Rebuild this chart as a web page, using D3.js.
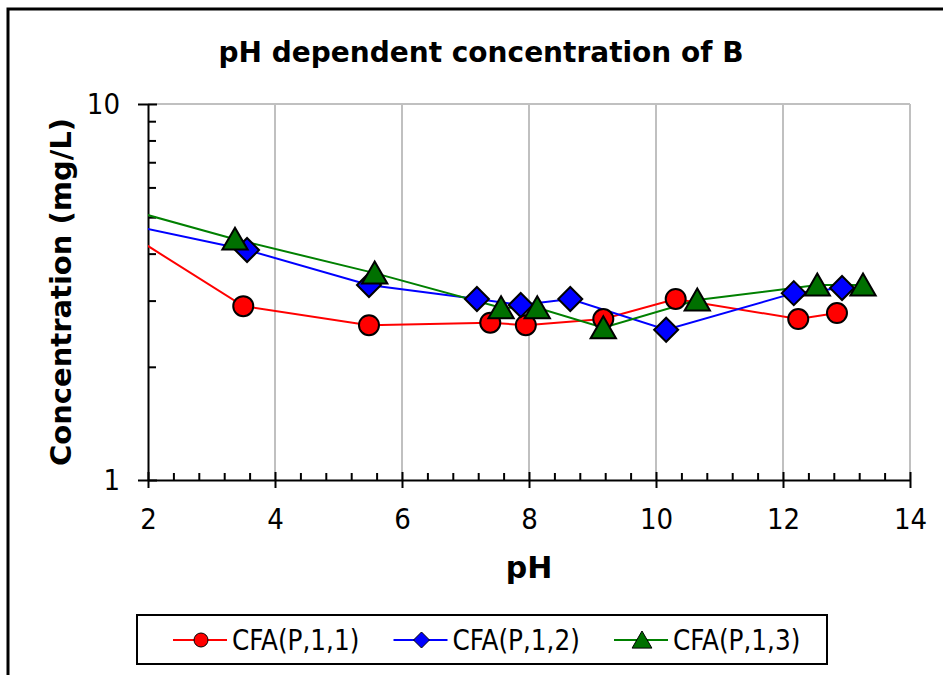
<!DOCTYPE html>
<html>
<head>
<meta charset="utf-8">
<script src="https://cdn.jsdelivr.net/npm/d3@7"></script>
<style>
  body { margin: 0; background: #fff; }
  text { font-family: "DejaVu Sans Condensed", "DejaVu Sans", sans-serif; fill: #000; }
</style>
</head>
<body>
<div id="chart"></div>
<script>
// pH values and concentrations (mg/L)
// the first point of each run sits just below pH 2 and is clipped by the plot area
const ph1 = [1.7, 3.50, 5.48, 7.39, 7.95, 9.17, 10.31, 12.24, 12.85],
      conc1 = [4.51, 2.90, 2.58, 2.62, 2.58, 2.68, 3.03, 2.68, 2.78];
const ph2 = [1.7, 3.56, 5.48, 7.18, 7.87, 8.65, 10.16, 12.17, 12.93],
      conc2 = [4.77, 4.09, 3.30, 3.03, 2.92, 3.03, 2.51, 3.14, 3.24];
const ph3 = [1.7, 3.37, 5.57, 7.56, 8.13, 9.17, 10.65, 12.54, 13.26],
      conc3 = [5.23, 4.37, 3.55, 2.87, 2.87, 2.54, 3.01, 3.30, 3.30];
const seriesNames = ["CFA(P,1,1)", "CFA(P,1,2)", "CFA(P,1,3)"];
const xTicks = [2, 4, 6, 8, 10, 12, 14],
      yTicks = [1, 10];

(function () {
    "use strict";
    const width = 943, height = 675,
          left = 148, right = 910, top = 104, bottom = 480;

    const svg = d3.select("#chart").append("svg")
        .attr("width", width)
        .attr("height", height);

    const x = d3.scaleLinear().domain([2, 14]).range([left, right]);
    const y = d3.scaleLog().domain([1, 10]).range([bottom, top]);

    // outer frame (runs off the right and bottom edges)
    svg.append("rect")
        .attr("x", 8).attr("y", 9)
        .attr("width", 960).attr("height", 700)
        .attr("fill", "none")
        .attr("stroke", "#000")
        .attr("stroke-width", 3);

    svg.append("text")
        .attr("x", 481).attr("y", 62)
        .attr("text-anchor", "middle")
        .style("font-family", "'DejaVu Sans', sans-serif")
        .style("font-weight", "bold")
        .style("font-size", "28px")
        .text("pH dependent concentration of B");

    // grid
    const grid = svg.append("g");
    grid.selectAll("line.v")
        .data(xTicks.slice(1))
        .enter().append("line")
        .attr("x1", d => x(d)).attr("x2", d => x(d))
        .attr("y1", top).attr("y2", bottom)
        .attr("stroke", "#c0c0c0")
        .attr("stroke-width", 2);
    grid.append("line")
        .attr("x1", left).attr("x2", right)
        .attr("y1", y(10)).attr("y2", y(10))
        .attr("stroke", "#c0c0c0")
        .attr("stroke-width", 2);

    // x axis: minor ticks inside, major ticks crossing
    const minorX = d3.range(2, 14.01, 0.4).filter(v => Math.abs(v / 2 - Math.round(v / 2)) > 0.01);
    svg.append("g")
        .attr("transform", "translate(0," + bottom + ")")
        .call(d3.axisBottom(x).tickValues(minorX).tickSize(-7).tickFormat(""))
        .call(g => g.select(".domain").remove())
        .selectAll("line").attr("stroke-width", 2);
    const gx = svg.append("g")
        .attr("transform", "translate(0," + bottom + ")")
        .call(d3.axisBottom(x).tickValues(xTicks).tickSize(8).tickSizeOuter(0).tickPadding(20));
    gx.selectAll(".tick line").attr("y1", -8).attr("stroke-width", 2);
    gx.select(".domain").attr("stroke-width", 2);
    gx.selectAll("text").style("font-size", "29px").attr("dy", "0.71em");

    // y axis
    const minorY = d3.range(2, 10);
    svg.append("g")
        .attr("transform", "translate(" + left + ",0)")
        .call(d3.axisLeft(y).tickValues(minorY).tickSize(-8).tickFormat(""))
        .call(g => g.select(".domain").remove())
        .selectAll("line").attr("stroke-width", 2);
    const gy = svg.append("g")
        .attr("transform", "translate(" + left + ",0)")
        .call(d3.axisLeft(y).tickValues(yTicks).tickFormat(d3.format("d")).tickSize(10).tickSizeOuter(0).tickPadding(18));
    gy.selectAll(".tick line").attr("x1", 9).attr("stroke-width", 2);
    gy.select(".domain").attr("stroke-width", 2);
    gy.selectAll("text").style("font-size", "29px");

    svg.append("text")
        .attr("transform", "translate(71,292) rotate(-90)")
        .attr("text-anchor", "middle")
        .style("font-family", "'DejaVu Sans', sans-serif")
        .style("font-weight", "bold")
        .style("font-size", "29px")
        .text("Concentration (mg/L)");

    svg.append("text")
        .attr("x", 529).attr("y", 578)
        .attr("text-anchor", "middle")
        .style("font-family", "'DejaVu Sans', sans-serif")
        .style("font-weight", "bold")
        .style("font-size", "30px")
        .text("pH");

    // series
    svg.append("defs").append("clipPath").attr("id", "plot")
        .append("rect")
        .attr("x", left).attr("y", top - 20)
        .attr("width", right - left + 20).attr("height", bottom - top + 20);

    function diamond(r) { return "M0," + (-r) + "L" + r + ",0L0," + r + "L" + (-r) + ",0Z"; }
    function triangle(r) { return "M0," + (-r) + "L" + (r * 1.1) + "," + (r * 0.9) + "L" + (-r * 1.1) + "," + (r * 0.9) + "Z"; }
    function circle(r) { return d3.symbol(d3.symbolCircle, Math.PI * r * r)(); }

    const series = [
        {name: seriesNames[0], ph: ph1, conc: conc1, color: "#ff0000", fill: "#ff0000", shape: circle, r: 10, lr: 7},
        {name: seriesNames[1], ph: ph2, conc: conc2, color: "#0000ff", fill: "#0000ff", shape: diamond, r: 12, lr: 8},
        {name: seriesNames[2], ph: ph3, conc: conc3, color: "#008000", fill: "#007000", shape: triangle, r: 11.5, lr: 9}
    ];

    const line = d3.line().x(d => x(d[0])).y(d => y(d[1]));
    const plot = svg.append("g").attr("clip-path", "url(#plot)");

    series.forEach(function (s) {
        s.points = s.ph.map((p, i) => [p, s.conc[i]]);
        plot.append("path")
            .attr("d", line(s.points))
            .attr("fill", "none")
            .attr("stroke", s.color)
            .attr("stroke-width", 2);
    });
    series.forEach(function (s) {
        plot.selectAll(null)
            .data(s.points)
            .enter().append("path")
            .attr("transform", d => "translate(" + x(d[0]) + "," + y(d[1]) + ")")
            .attr("d", s.shape(s.r))
            .attr("fill", s.fill)
            .attr("stroke", "#000")
            .attr("stroke-width", 2);
    });

    // legend
    const legend = svg.append("g");
    legend.append("rect")
        .attr("x", 137).attr("y", 615)
        .attr("width", 690).attr("height", 49)
        .attr("fill", "#fff")
        .attr("stroke", "#000")
        .attr("stroke-width", 2);
    const legendX = [173, 393.5, 614];
    series.forEach(function (s, i) {
        const g = legend.append("g").attr("transform", "translate(" + legendX[i] + ",640)");
        g.append("line")
            .attr("x1", 0).attr("x2", 54)
            .attr("stroke", s.color)
            .attr("stroke-width", 2);
        g.append("path")
            .attr("transform", "translate(28,0)")
            .attr("d", s.shape(s.lr))
            .attr("fill", s.fill)
            .attr("stroke", "#000")
            .attr("stroke-width", 1);
        g.append("text")
            .attr("x", 59).attr("y", 0)
            .attr("dy", "0.36em")
            .style("font-size", "27.5px")
            .text(s.name);
    });
})();
</script>
</body>
</html>
